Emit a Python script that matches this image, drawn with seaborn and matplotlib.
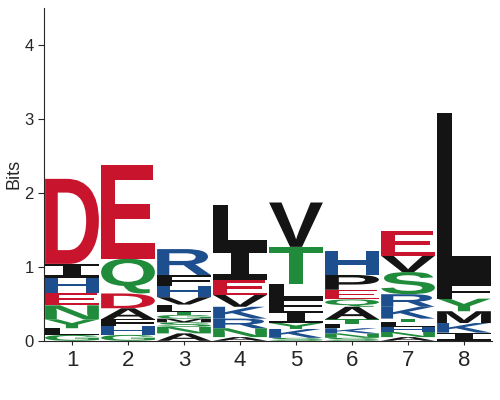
import numpy as np
import matplotlib
matplotlib.use("Agg")
import matplotlib.pyplot as plt
from matplotlib.textpath import TextPath
from matplotlib.patches import PathPatch
from matplotlib.font_manager import FontProperties
from matplotlib.transforms import Affine2D
import seaborn as sns

# letters listed bottom -> top, heights in bits
pos1_letters = ["G", "L", "Y", "N", "E", "H", "I", "D"]
pos1_heights = [0.08, 0.09, 0.12, 0.19, 0.17, 0.20, 0.19, 1.15]
pos2_letters = ["G", "H", "F", "A", "D", "Q", "E"]
pos2_heights = [0.08, 0.12, 0.09, 0.15, 0.20, 0.47, 1.27]
pos3_letters = ["A", "N", "S", "M", "G", "T", "L", "V", "H", "F", "R"]
pos3_heights = [0.10, 0.09, 0.06, 0.05, 0.05, 0.04, 0.10, 0.10, 0.15, 0.15, 0.35]
pos4_letters = ["A", "N", "R", "K", "V", "E", "I", "L"]
pos4_heights = [0.05, 0.12, 0.13, 0.16, 0.16, 0.20, 0.45, 0.56]
pos5_letters = ["S", "K", "Y", "I", "F", "L", "T", "V"]
pos5_heights = [0.04, 0.12, 0.08, 0.16, 0.17, 0.20, 0.50, 0.60]
pos6_letters = ["S", "N", "K", "L", "T", "A", "Q", "E", "P", "H"]
pos6_heights = [0.04, 0.06, 0.07, 0.06, 0.06, 0.17, 0.10, 0.13, 0.20, 0.33]
pos7_letters = ["A", "N", "H", "L", "T", "K", "R", "S", "V", "E"]
pos7_heights = [0.05, 0.07, 0.07, 0.07, 0.04, 0.16, 0.17, 0.30, 0.22, 0.34]
pos8_letters = ["I", "K", "M", "Y", "F", "L"]
pos8_heights = [0.11, 0.13, 0.16, 0.17, 0.20, 2.31]

positions = [1, 2, 3, 4, 5, 6, 7, 8]
columns = [
    (pos1_letters, pos1_heights), (pos2_letters, pos2_heights),
    (pos3_letters, pos3_heights), (pos4_letters, pos4_heights),
    (pos5_letters, pos5_heights), (pos6_letters, pos6_heights),
    (pos7_letters, pos7_heights), (pos8_letters, pos8_heights),
]

# chemistry colour scheme
red, blue, green, black = "#c8142d", "#1d4f8f", "#1f8b3b", "#141414"
colors = {}
for aa in "DE":
    colors[aa] = red
for aa in "KRH":
    colors[aa] = blue
for aa in "GSTYCQN":
    colors[aa] = green
for aa in "AVLIPWFM":
    colors[aa] = black

sns.set_style("ticks")
plt.rcParams['font.family'] = ['Liberation Sans', 'DejaVu Sans']

fig, ax = plt.subplots(figsize=(5, 4), dpi=100)
fig.subplots_adjust(left=0.088, right=0.984, bottom=0.148, top=0.98)

fp = FontProperties(family="Liberation Sans", weight="bold")
fp_serif_i = FontProperties(family="DejaVu Sans Mono", weight="bold")
width = 0.96

for x, (letters, heights) in zip(positions, columns):
    y = 0.0
    for aa, h in zip(letters, heights):
        tp = TextPath((0, 0), aa, size=1, prop=fp_serif_i if aa == "I" else fp)
        ext = tp.get_extents()
        t = (Affine2D()
             .translate(-ext.x0, -ext.y0)
             .scale(width / ext.width, h / ext.height)
             .translate(x - width / 2, y))
        ax.add_patch(PathPatch(t.transform_path(tp), facecolor=colors[aa],
                               edgecolor="none", lw=0))
        y += h

ax.set_xlim(0.5, 8.5)
ax.set_ylim(0, 4.5)
ax.set_xticks(positions)
ax.set_yticks([0, 1, 2, 3, 4])
ax.tick_params(axis="x", labelsize=16, length=3)
ax.tick_params(axis="y", labelsize=12, length=4)
ax.set_ylabel("Bits", fontsize=13, labelpad=1)
sns.despine(ax=ax)

fig.savefig("out.png", dpi=100)
